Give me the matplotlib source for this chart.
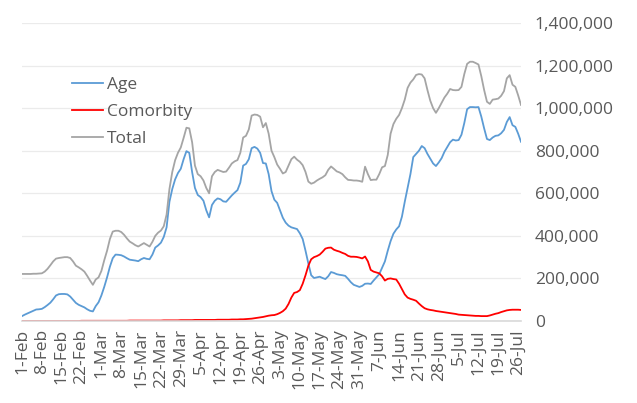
import pandas as pd
import matplotlib
matplotlib.use("Agg")
import matplotlib.pyplot as plt
from matplotlib.ticker import FuncFormatter

plt.rcParams['font.family'] = ['Open Sans', 'DejaVu Sans']

# daily values, thousands, 1-Feb .. 27-Jul
age = [
    23, 30, 36, 42, 48, 54, 55, 57, 65, 75,
    86, 102, 120, 126, 127, 127, 125, 115, 100, 85,
    76, 70, 64, 55, 48, 45, 70, 88, 120, 160,
    205, 255, 295, 312, 311, 309, 303, 295, 288, 286,
    284, 281, 290, 296, 292, 290, 312, 345, 355, 368,
    395, 440, 560, 620, 665, 695, 715, 760, 798, 790,
    700, 625, 592, 582, 565, 520, 487, 545, 565, 576,
    572, 562, 560, 575, 590, 603, 615, 650, 730, 738,
    760, 812, 818, 810, 790, 742, 740, 690, 610, 570,
    555, 520, 485, 462, 448, 440, 436, 432, 412, 385,
    330, 270, 215, 202, 205, 208, 202, 197, 210, 230,
    226, 220, 217, 215, 212, 198, 182, 170, 165, 160,
    165, 175, 176, 174, 190, 205, 220, 250, 280, 330,
    375, 410, 430, 445, 490, 560, 625, 690, 770, 785,
    800, 822, 812, 785, 762, 740, 728, 745, 765, 795,
    818, 840, 852, 848, 850, 875, 930, 995, 1005, 1005,
    1004, 1005, 960, 905, 855, 850, 862, 870, 872, 882,
    898, 935, 958, 920, 912, 880, 842,
]

comorbity = [
    0, 0, 0, 0, 0, 0, 0, 0, 0, 0,
    0, 0, 0, 0, 0, 0, 0, 0, 0, 0,
    0, 1, 1, 1, 1, 1, 1, 1, 1, 1,
    1, 1, 1, 1, 1, 1, 1, 1, 2, 2,
    2, 2, 2, 2, 2, 2, 2, 2, 2, 2,
    3, 3, 3, 3, 3, 3, 4, 4, 4, 4,
    4, 5, 5, 5, 5, 5, 5, 5, 5, 6,
    6, 6, 6, 6, 7, 7, 7, 8, 8, 9,
    10, 11, 13, 15, 17, 19, 22, 25, 27, 28,
    32, 38, 46, 58, 80, 110, 132, 136, 145, 175,
    215, 260, 290, 300, 305, 312, 325, 340, 344, 345,
    335, 330, 326, 320, 315, 306, 302, 302, 301, 298,
    294, 303, 280, 240, 232, 228, 224, 210, 190, 198,
    200, 197, 195, 175, 150, 125, 110, 104, 100, 95,
    82, 70, 60, 55, 52, 50, 47, 45, 43, 41,
    39, 37, 35, 33, 30, 29, 28, 27, 26, 25,
    24, 24, 23, 23, 23, 26, 30, 34, 37, 42,
    46, 50, 52, 53, 53, 53, 52,
]

total = [
    221, 221, 221, 221, 222, 222, 223, 224, 232, 245,
    262, 280, 293, 296, 298, 300, 300, 296, 280, 260,
    252, 243, 232, 212, 190, 170, 195, 205, 235, 285,
    330, 385, 420, 424, 424, 418, 405, 388, 373, 365,
    356, 350, 358, 366, 358, 350, 372, 400, 415, 425,
    445, 500, 620, 700, 755, 790, 815, 860, 908, 905,
    840, 730, 690, 680, 660, 625, 600, 680, 700, 710,
    705, 700, 702, 720, 740, 750, 756, 790, 862, 870,
    900, 965, 970, 968, 960, 910, 930, 880, 800, 770,
    735, 715, 693, 700, 730, 760, 772, 758, 748, 732,
    700, 655, 645, 650, 660, 668, 675, 685, 710, 726,
    715, 703, 698, 690, 675, 663, 662, 660, 660, 658,
    654, 725, 690, 662, 664, 664, 690, 722, 728, 780,
    880, 925, 950, 968, 1000, 1040, 1095, 1120, 1135, 1156,
    1160, 1158, 1140, 1085, 1035, 1000, 978, 1000, 1025, 1050,
    1068, 1090, 1085, 1084, 1085, 1100, 1160, 1208, 1218, 1218,
    1212, 1205, 1150, 1085, 1030, 1020, 1040, 1042, 1045, 1058,
    1080, 1140, 1155, 1110, 1100, 1060, 1015,
]

dates = pd.date_range("2021-02-01", periods=len(age), freq="D")
df = pd.DataFrame({"Age": age, "Comorbity": comorbity, "Total": total}, index=dates) * 1000

colors = {"Age": "#5B9BD5", "Comorbity": "#FF0000", "Total": "#A5A5A5"}
gray_text = "#595959"

fig = plt.figure(figsize=(6.37, 4.03), dpi=100)
ax = fig.add_axes([22 / 637, 82 / 403, 499 / 637, 298 / 403])

x = range(len(df))
for name in ["Age", "Comorbity", "Total"]:
    ax.plot(x, df[name].values, color=colors[name], lw=1.3, label=name)

ax.set_xlim(0, len(df) - 1)
ax.set_ylim(0, 1400000)
ax.set_yticks(range(0, 1400001, 200000))
ax.yaxis.set_major_formatter(FuncFormatter(lambda v, p: f"{int(v):,}"))
ax.yaxis.tick_right()
ax.grid(axis="y", color="#ebebeb", lw=0.9)
ax.set_axisbelow(True)

tick_pos = list(range(0, len(df), 7))
ax.set_xticks(tick_pos)
ax.set_xticklabels([f"{dates[i].day}-{dates[i].strftime('%b')}" for i in tick_pos], rotation=90)

ax.tick_params(axis="both", length=0, labelsize=12.5, labelcolor=gray_text)
ax.tick_params(axis="y", pad=10)
ax.tick_params(axis="x", pad=6)

for s in ["top", "left", "right"]:
    ax.spines[s].set_visible(False)
ax.spines["bottom"].set_color("#d9d9d9")
ax.spines["bottom"].set_linewidth(1.2)

leg = ax.legend(loc="upper left", bbox_to_anchor=(72 / 637, 1 - 77 / 403),
                bbox_transform=fig.transFigure, frameon=False, fontsize=12.5,
                handlelength=1.8, handletextpad=0.2, labelspacing=0.62,
                borderpad=0, borderaxespad=0)
for t in leg.get_texts():
    t.set_color(gray_text)

fig.savefig("out.png", dpi=100)
